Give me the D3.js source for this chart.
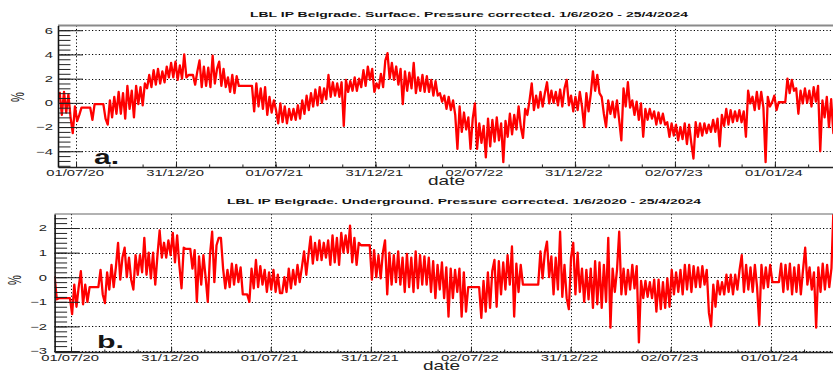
<!DOCTYPE html>
<html>
<head>
<meta charset="utf-8">
<script src="https://cdn.jsdelivr.net/npm/d3@7"></script>
<style>
  body { margin: 0; background: #fff; }
  svg { display: block; }
  text { font-family: "Liberation Sans", Arial, Helvetica, sans-serif; }
</style>
</head>
<body>
<svg id="chart" width="833" height="372"></svg>
<script>
// Relative count-rate variation (%), one value every 4 days from 1 June 2020.
// null marks days without data; the graph line bridges those gaps.
const seriesStart = "2020-06-01";
const stepDays = 4;

const surfaceValues = [
  0.9, -1.0, 0.9, -0.8, 0.7, -1.2, -2.5, -0.3, -1.5, -1.0,
  -0.4, null, null, null, -0.4, -1.4, -0.1, null, null, null,
  -0.1, -1.3, -1.8, 0.2, -1.2, 0.5, -0.9, 0.9, -0.9, 0.8,
  -1.3, 1.4, -0.5, 1.0, -1.2, 1.4, -0.1, 1.3, -0.2, 1.6,
  1.2, 2.3, 1.3, 2.7, 1.5, 2.8, 1.6, 2.6, 1.7, 3.0,
  2.1, 3.3, 2.1, 3.4, 1.9, 3.1, 2.0, 4.0, 2.1, 2.3,
  null, 2.3, 1.5, 2.6, 3.5, 1.3, 3.0, 1.4, 2.9, 1.3,
  3.9, 1.6, 2.8, 3.4, 1.4, 2.8, 1.3, 2.1, 0.9, 2.3,
  0.8, 2.2, 1.4, null, null, null, null, null, 1.4, -0.7,
  1.6, -0.3, 1.2, -0.5, 1.3, -1.0, 0.5, -0.8, 0.2, -0.6,
  -1.7, -0.05, -1.6, -0.3, -1.7, -0.5, -1.4, -0.5, -1.4, -0.2,
  -1.3, 0.2, -0.9, 0.6, -0.6, 0.8, -0.3, 1.1, -0.2, 1.3,
  0.0, 1.2, 0.3, 2.3, 0.5, 1.7, 0.6, 1.6, 0.5, 1.7,
  -1.9, 1.9, 0.9, 1.8, 1.0, 2.1, 1.0, 2.0, 1.3, 2.7,
  1.4, 3.0, 1.9, 2.8, 0.9, 1.6, 1.2, 2.4, 1.3, 3.5,
  4.1, 2.0, 3.3, 1.9, 3.0, 1.5, 2.8, -0.1, 2.6, 1.0,
  2.5, 1.2, 3.3, 0.8, 2.1, 1.0, 2.3, 0.9, 2.2, 0.9,
  1.9, 0.6, 1.8, 0.6, 0.8, 0.1, 0.6, -0.5, 0.5, -0.6,
  0.2, -1.0, -3.8, -0.3, -2.4, -0.8, -2.2, -1.2, -3.8, -1.3,
  -0.05, -3.8, -1.7, -3.3, -1.9, -4.5, -1.3, -3.6, -1.4, -3.2,
  -1.2, -3.1, -1.7, -4.9, -1.5, -2.8, -0.9, -2.6, -1.0, -2.2,
  -0.3, -2.0, -2.9, -0.5, -1.0, 0.2, 1.6, -0.6, 0.6, -0.4,
  0.9, -0.3, 0.8, 1.7, -0.05, 1.0, 0.0, 0.9, -0.2, 1.1,
  -0.3, 1.2, 1.9, -0.2, 0.6, -0.7, 0.5, -0.6, 0.9, -0.3,
  -2.0, 0.8, -0.7, 0.7, 2.6, 1.0, 2.3, 0.8, 0.5, -0.9,
  -2.0, 0.2, -0.9, 0.1, -1.2, 0.2, -1.4, -3.1, 1.2, -0.3,
  1.7, -0.4, 0.2, -1.0, 0.1, -1.4, -0.05, -2.8, -0.5, -1.4,
  -0.5, -1.3, -0.7, -1.8, -0.8, -1.7, -0.9, -1.8, -1.6, -2.8,
  -1.7, -2.7, -1.8, -3.1, -2.0, -3.0, -1.7, -3.4, -1.8, -3.3,
  -4.6, -1.6, -2.8, -1.7, -2.7, -1.7, -2.5, -1.8, -2.4, -1.4,
  -2.4, -1.3, -3.6, -1.0, -1.9, -0.5, -1.8, -0.6, -1.6, -0.7,
  -1.5, -0.6, -1.6, -0.7, -2.8, 1.0, -0.05, 0.5, -0.6, 0.9,
  -0.5, 0.9, -0.4, -4.9, 0.5, -0.3, 0.05, 0.6, -0.6, 0.05,
  null, null, 0.05, 2.0, 0.8, 1.9, 1.0, 1.2, -0.9, 1.0,
  -0.05, 1.2, 0.0, 1.0, -0.3, 1.3, 0.1, 1.4, -4.0, 0.2,
  -1.2, 0.5, -2.0, 0.3, -2.5, -0.5, -2.7
];

const undergroundValues = [
  0.05, -0.9, -0.85, null, null, null, null, -0.85, -1.5, -0.3,
  -1.2, -0.4, 0.25, -1.1, -0.3, -1.0, -0.4, null, null, null,
  -0.4, 0.3, -0.7, -1.05, 0.2, -0.5, 0.5, -0.4, 0.4, 1.4,
  -0.1, 0.8, 1.2, 0.0, 0.8, -0.1, -0.5, 0.9, 0.1, 0.9,
  0.2, 1.6, 0.1, 1.0, -0.05, 1.0, -0.3, 0.9, 1.9, 0.8,
  1.4, 0.8, 1.5, 0.9, 1.8, 0.6, 1.7, 0.5, -0.45, 1.2,
  1.15, null, 1.15, 0.35, 1.1, -1.0, 0.85, -0.3, 0.9, 0.0,
  -1.0, 0.9, 1.85, -0.2, 1.3, 1.6, 1.6, 0.35, -0.45, 0.3,
  -0.4, 0.55, -0.3, 0.5, -0.2, 0.4, -0.7, null, -0.7, -1.0,
  0.35, -0.45, 0.7, -0.4, 0.45, -0.3, 0.3, -0.6, 0.2, -0.5,
  0.3, -0.6, 0.1, -0.65, -0.65, 0.0, -0.6, 0.35, -0.45, 0.3,
  -0.3, 0.5, -0.2, 0.4, 1.05, 0.1, 0.9, 1.65, 0.55, 1.4,
  0.7, 1.5, 0.7, 1.4, 0.8, 1.5, 0.5, 1.7, 0.6, 1.6,
  0.5, 1.8, 1.0, 1.7, 1.0, 2.1, 0.6, 1.6, 0.5, 1.4,
  1.3, null, null, null, 1.3, -0.1, 1.1, 0.0, 0.9, -0.05,
  1.0, 1.5, -0.7, 1.0, -0.3, 0.9, -0.2, 1.05, -0.3, 0.8,
  -0.6, 0.95, -0.4, 0.8, -0.6, 1.05, -0.45, 0.9, -0.3, 0.85,
  -0.3, 0.8, -0.6, 0.65, -0.85, 0.5, -0.5, 0.6, -0.85, 0.4,
  -1.6, 0.35, -0.85, 0.3, -0.6, 0.35, -1.6, 0.2, -1.4, -0.4,
  null, null, null, null, -0.4, -1.65, -0.15, -1.4, 0.2, -1.25,
  0.25, 0.7, -1.2, 0.65, -0.7, 0.6, -0.5, 0.9, -0.3, 1.25,
  -1.6, 0.55, -0.6, 0.5, -0.3, null, null, null, null, null,
  null, -0.3, 1.05, -0.05, 1.0, 1.45, 0.0, 0.85, -0.7, 0.8,
  -0.5, 1.85, -0.8, 0.5, -0.85, -1.3, 0.8, 1.4, -0.7, 1.0,
  -0.6, 0.35, -1.0, 0.3, -0.9, 0.35, -1.25, 0.65, -1.1, 0.6,
  -1.25, 0.5, -1.0, 1.6, -2.05, 0.35, -0.6, 0.3, 1.85, -0.7,
  0.35, -0.7, 0.3, -0.5, 0.5, -0.45, 0.45, -2.65, -0.15, -0.85,
  -0.15, -0.8, -0.2, -0.85, -0.1, -1.4, -0.1, -1.3, -0.2, -1.25,
  -0.05, -1.2, 0.3, -0.7, 0.2, -0.6, 0.3, -0.7, 0.5, -0.5,
  0.5, -0.6, 0.45, -0.4, 0.4, -0.4, 0.45, -0.3, 0.3, -1.45,
  -2.0, -0.3, -1.2, -0.15, -0.7, -0.2, -0.7, 0.1, -0.6, 0.1,
  -0.7, 0.1, -0.5, 0.3, 0.9, -0.6, 0.5, -0.5, 0.4, -0.6,
  0.5, -0.4, -1.95, 0.5, -0.45, 0.4, -0.4, 0.5, -0.2, null,
  null, -0.2, 0.55, -0.6, 0.5, -0.5, 0.55, -0.7, 0.4, -0.6,
  0.5, -0.7, 0.3, 1.2, -0.3, 0.4, -0.5, 0.2, -2.05, 0.4,
  -0.6, 0.55, -0.5, 0.5, -0.4, 0.37, 3.0
];

const dateTickLabels = ["01/07/20", "31/12/20", "01/07/21", "31/12/21",
                        "02/07/22", "31/12/22", "02/07/23", "01/01/24"];
const surfaceYTicks = [-4, -2, 0, 2, 4, 6];
const undergroundYTicks = [-3, -2, -1, 0, 1, 2];

const surfaceTitle = "LBL IP Belgrade. Surface. Pressure corrected. 1/6/2020 - 25/4/2024";
const undergroundTitle = "LBL IP Belgrade. Underground. Pressure corrected. 1/6/2020 - 25/4/2024";
const yAxisTitle = "%";
const xAxisTitle = "date";

const parseDay = d3.utcParse("%Y-%m-%d");
const parseTick = d3.utcParse("%d/%m/%y");
const t0 = parseDay(seriesStart);
const toPoints = vals => vals
  .map((v, i) => ({ date: d3.utcDay.offset(t0, i * stepDays), v }))
  .filter(d => d.v !== null);

const svg = d3.select("#chart");
const STRETCH = 1.65; // wide lettering of the axis labels

const panels = [
  {
    key: "surface", title: surfaceTitle, values: surfaceValues, yTicks: surfaceYTicks,
    minorStep: 0.4, yDomain: [-5.3, 6.39], xDomain: ["2020-05-29", "2024-05-01"],
    left: 58, right: 841, top: 25.5, bottom: 167,
    titleX: 250, titleY: 16.7, titleW: 438,
    yLabelGap: 5, xLabelPad: 2.6,
    letter: "a.", letterX: 94, letterY: 164, letterSize: 20, letterW: 25,
    pctX: 17.5, pctY: 97, dateX: 428, dateY: 184.5,
    frameColor: "#8a8a8a", frameWidth: 2
  },
  {
    key: "underground", title: undergroundTitle, values: undergroundValues, yTicks: undergroundYTicks,
    minorStep: 0.2, yDomain: [-3.04, 2.57], xDomain: ["2020-06-01", "2024-04-26"],
    left: 54.6, right: 834.2, top: 214, bottom: 352,
    titleX: 227, titleY: 204, titleW: 474,
    yLabelGap: 7.5, xLabelPad: 2.6,
    letter: "b.", letterX: 97, letterY: 347.5, letterSize: 18, letterW: 27,
    pctX: 14, pctY: 280, dateX: 423, dateY: 369.5,
    frameColor: "#666", frameWidth: 1.2
  }
];

function drawPanel(p) {
  const x = d3.scaleUtc().domain(p.xDomain.map(parseDay)).range([p.left, p.right]);
  const y = d3.scaleLinear().domain(p.yDomain).range([p.bottom, p.top]);
  const g = svg.append("g").attr("class", "panel-" + p.key);

  const clipId = "clip-" + p.key;
  svg.append("clipPath").attr("id", clipId)
    .append("rect")
    .attr("x", p.left).attr("y", p.top)
    .attr("width", p.right - p.left).attr("height", p.bottom - p.top);

  const tickDates = dateTickLabels.map(parseTick);

  // minor date ticks: thirds of the major spacing, across the whole axis
  const span = (tickDates[tickDates.length - 1] - tickDates[0]) / (tickDates.length - 1);
  const [dMin, dMax] = x.domain();
  const minorDates = [];
  for (let t = +tickDates[0] - span; t <= +dMax; t += span / 3) {
    if (t >= +dMin) minorDates.push(new Date(t));
  }

  // y minor ticks
  const ys = [];
  const k0 = Math.ceil(p.yDomain[0] / p.minorStep - 1e-9);
  const k1 = Math.floor(p.yDomain[1] / p.minorStep + 1e-9);
  for (let k = k0; k <= k1; k++) ys.push(+(k * p.minorStep).toFixed(3));

  // dotted grid
  const grid = g.append("g").attr("stroke", "#000").attr("stroke-width", 1)
    .attr("stroke-dasharray", "1.2,2.2");
  grid.selectAll("line.h").data(p.yTicks).join("line").attr("class", "h")
    .attr("x1", p.left).attr("x2", p.right)
    .attr("y1", d => Math.round(y(d)) + 0.5).attr("y2", d => Math.round(y(d)) + 0.5);
  grid.selectAll("line.v").data(tickDates).join("line").attr("class", "v")
    .attr("y1", p.top).attr("y2", p.bottom)
    .attr("x1", d => Math.round(x(d)) + 0.5).attr("x2", d => Math.round(x(d)) + 0.5);

  // data line
  const line = d3.line().x(d => x(d.date)).y(d => y(d.v));
  g.append("path")
    .datum(toPoints(p.values))
    .attr("clip-path", `url(#${clipId})`)
    .attr("fill", "none")
    .attr("stroke", "#ff0000")
    .attr("stroke-width", 2.3)
    .attr("stroke-linejoin", "round")
    .attr("d", line);

  // frame top
  g.append("line")
    .attr("x1", p.left).attr("x2", p.right)
    .attr("y1", p.top).attr("y2", p.top)
    .attr("stroke", p.frameColor).attr("stroke-width", p.frameWidth);

  // y axis: minor ticks
  const yMinor = g.append("g").attr("transform", `translate(${p.left},0)`)
    .call(d3.axisLeft(y).tickValues(ys).tickSizeInner(-12.5).tickSizeOuter(0).tickFormat(""));
  yMinor.select(".domain").remove();
  yMinor.selectAll("line").attr("stroke", "#222");

  // y axis: major ticks and labels
  const yAxis = g.append("g").attr("transform", `translate(${p.left},0)`)
    .call(d3.axisLeft(y).tickValues(p.yTicks).tickSizeInner(-25).tickSizeOuter(0)
      .tickPadding(p.yLabelGap / STRETCH).tickFormat(d => d < 0 ? "\u2212" + Math.abs(d) : String(d)));
  yAxis.attr("font-family", null).attr("font-size", null);
  yAxis.select(".domain").attr("stroke", "#111").attr("stroke-width", 1.6);
  yAxis.selectAll(".tick line").attr("stroke", "#222");
  yAxis.selectAll(".tick text")
    .attr("font-size", 9).attr("fill", "#222")
    .attr("transform", `scale(${STRETCH},1)`);

  // x axis: minor ticks
  const xMinor = g.append("g").attr("transform", `translate(0,${p.bottom})`)
    .call(d3.axisBottom(x).tickValues(minorDates).tickSizeInner(-2.5).tickSizeOuter(0).tickFormat(""));
  xMinor.select(".domain").remove();
  xMinor.selectAll("line").attr("stroke", "#222");

  // x axis: major ticks and date labels
  const xAxis = g.append("g").attr("transform", `translate(0,${p.bottom})`)
    .call(d3.axisBottom(x).tickValues(tickDates).tickSizeInner(-5).tickSizeOuter(0)
      .tickPadding(p.xLabelPad).tickFormat((d, i) => dateTickLabels[i]));
  xAxis.attr("font-family", null).attr("font-size", null);
  xAxis.select(".domain").attr("stroke", "#222").attr("stroke-width", 1.4);
  xAxis.selectAll(".tick line").attr("stroke", "#222");
  xAxis.selectAll(".tick text")
    .attr("font-size", 9).attr("fill", "#222")
    .attr("transform", `translate(-1.5,0) scale(${STRETCH},1)`);

  // title
  g.append("text")
    .attr("x", p.titleX).attr("y", p.titleY)
    .attr("font-size", 8).attr("font-weight", "bold").attr("fill", "#111")
    .attr("textLength", p.titleW).attr("lengthAdjust", "spacingAndGlyphs")
    .text(p.title);

  // axis titles
  g.append("text")
    .attr("transform", `translate(${p.pctX},${p.pctY}) scale(${STRETCH},1) rotate(-90)`)
    .attr("text-anchor", "middle").attr("dy", "0.36em")
    .attr("font-size", 11).attr("fill", "#222")
    .text(yAxisTitle);
  g.append("text")
    .attr("x", p.dateX).attr("y", p.dateY)
    .attr("font-size", 13.5).attr("fill", "#222")
    .attr("textLength", 37).attr("lengthAdjust", "spacingAndGlyphs")
    .text(xAxisTitle);

  // panel letter
  g.append("text")
    .attr("x", p.letterX).attr("y", p.letterY)
    .attr("font-size", p.letterSize).attr("font-weight", "bold").attr("fill", "#151515")
    .attr("textLength", p.letterW).attr("lengthAdjust", "spacingAndGlyphs")
    .text(p.letter);
}

panels.forEach(drawPanel);
</script>
</body>
</html>
